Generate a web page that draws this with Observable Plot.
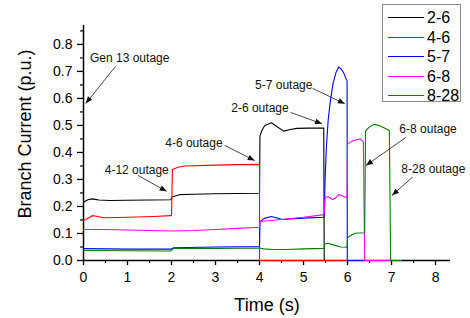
<!DOCTYPE html>
<html>
<head>
<meta charset="utf-8">
<script src="https://cdn.jsdelivr.net/npm/d3@7"></script>
<script src="https://cdn.jsdelivr.net/npm/@observablehq/plot@0.6"></script>
<style>
  html, body { margin: 0; padding: 0; background: #fff; }
  #wrap { position: relative; width: 470px; height: 318px; font-family: "Liberation Sans", Arial, sans-serif; }
  #legend { position: absolute; left: 382px; top: 4px; width: 79px; height: 98px; border: 1.5px solid #8a8a8a; box-sizing: border-box; background: #fff; }
  .li { position: absolute; left: 0; height: 20px; width: 78px; }
  .li .sw { position: absolute; left: 5px; top: 9px; width: 36px; height: 0; border-top: 1.3px solid; }
  .li .lb { position: absolute; left: 44px; top: 0; font-size: 16px; line-height: 20px; color: #000; }
</style>
</head>
<body>
<div id="wrap"></div>
<script>
// ---- data ----
const seriesNames = ["2-6", "4-6", "5-7", "6-8", "8-28"];
const seriesColors = ["#000000", "#ff0000", "#0000ff", "#ff00ff", "#008000"];

const s26 = [[0,0.216],[0.1,0.225],[0.2,0.228],[0.35,0.224],[0.6,0.222],[1,0.223],[1.5,0.224],[1.98,0.225],[2.02,0.236],[2.2,0.244],[2.5,0.245],[3,0.247],[3.5,0.248],[4,0.249],[4.01,0.46],[4.05,0.48],[4.12,0.5],[4.27,0.51],[4.4,0.495],[4.55,0.479],[4.7,0.485],[4.85,0.489],[5.1,0.49],[5.46,0.49],[5.47,0],[7.22,0]];
const s46 = [[0,0.148],[0.05,0.152],[0.2,0.166],[0.3,0.164],[0.45,0.158],[0.8,0.159],[1.2,0.161],[1.6,0.163],[1.98,0.166],[2.0,0.166],[2.02,0.337],[2.15,0.345],[2.3,0.35],[3,0.353],[3.5,0.355],[4,0.356],[4.0,0],[7.22,0]];
const s57 = [[0,0.044],[1,0.042],[1.98,0.042],[2.05,0.047],[3,0.05],[4,0.052],[4.01,0.144],[4.1,0.155],[4.26,0.163],[4.4,0.157],[4.52,0.152],[4.7,0.154],[5,0.157],[5.47,0.16],[5.49,0.3],[5.52,0.42],[5.56,0.52],[5.61,0.59],[5.67,0.655],[5.74,0.697],[5.8,0.716],[5.86,0.708],[5.92,0.692],[5.96,0.675],[5.99,0.665],[5.995,0],[7.22,0]];
const s68 = [[0,0.115],[0.5,0.115],[1,0.113],[1.5,0.111],[2,0.109],[2.5,0.111],[3,0.115],[3.5,0.119],[4,0.123],[4.01,0.145],[4.2,0.147],[4.5,0.152],[5,0.16],[5.47,0.17],[5.49,0.234],[5.56,0.236],[5.66,0.226],[5.72,0.23],[5.8,0.244],[5.88,0.24],[5.97,0.233],[5.99,0.233],[6.0,0.43],[6.08,0.44],[6.19,0.447],[6.29,0.45],[6.36,0.438],[6.39,0],[7.22,0]];
const s828 = [[0,0.037],[1,0.036],[1.98,0.035],[2.05,0.045],[3,0.045],[4,0.046],[4.1,0.043],[4.3,0.041],[4.6,0.041],[5,0.043],[5.47,0.045],[5.48,0.06],[5.55,0.064],[5.7,0.057],[5.85,0.05],[5.99,0.049],[6.0,0.085],[6.1,0.095],[6.17,0.101],[6.39,0.103],[6.41,0.479],[6.48,0.492],[6.6,0.504],[6.72,0.5],[6.85,0.49],[6.95,0.481],[6.98,0],[7.22,0]];
const seriesData = [s26, s46, s57, s68, s828];

const xTicks = [0,1,2,3,4,5,6,7,8];
const xMinor = [0.5,1.5,2.5,3.5,4.5,5.5,6.5,7.5];
const yTicks = [0,0.1,0.2,0.3,0.4,0.5,0.6,0.7,0.8];
const yMinor = [0.05,0.15,0.25,0.35,0.45,0.55,0.65,0.75,0.85];

const xTitle = "Time (s)";
const yTitle = "Branch Current (p.u.)";

// annotations: label position and arrow from -> to (data coordinates)
const annLabels = ["Gen 13 outage", "4-12 outage", "4-6 outage", "2-6 outage", "5-7 outage", "6-8 outage", "8-28 outage"];
const annTextT = [1.05, 1.21, 2.51, 4.01, 4.55, 7.83, 7.95];
const annTextV = [0.749, 0.336, 0.434, 0.563, 0.648, 0.488, 0.337];
const annFromT = [0.73, 1.24, 3.21, 4.71, 5.21, 7.33, 7.48];
const annFromV = [0.719, 0.315, 0.426, 0.548, 0.637, 0.456, 0.309];
const annToT   = [0.05, 1.89, 3.89, 5.42, 5.94, 6.42, 7.01];
const annToV   = [0.581, 0.256, 0.370, 0.506, 0.580, 0.352, 0.241];

// ---- build ----
const lineMarks = seriesData.map((s, i) =>
  Plot.line(s.map(([t, v]) => ({t, v})), {x: "t", y: "v", stroke: seriesColors[i], strokeWidth: 1.1})
);
const ann = annLabels.map((label, i) => ({
  label, tx: annTextT[i], ty: annTextV[i],
  x1: annFromT[i], y1: annFromV[i], x2: annToT[i], y2: annToV[i]
}));

const chart = Plot.plot({
  width: 470, height: 318,
  marginLeft: 83, marginRight: 20, marginTop: 25, marginBottom: 58,
  x: {domain: [0, 8.34]},
  y: {domain: [0, 0.87]},
  style: {fontFamily: "'Liberation Sans', Arial, sans-serif", fontSize: "14px", color: "#000", background: "transparent", overflow: "visible"},
  marks: [
    Plot.axisX({ticks: xTicks, tickSize: 5, tickPadding: 7, tickFormat: d => String(d), label: null, strokeWidth: 1.3, fontSize: 14}),
    Plot.axisX({ticks: xMinor, tickSize: 3, tickFormat: () => "", label: null, strokeWidth: 1.2}),
    Plot.axisY({ticks: yTicks, tickSize: 6, tickPadding: 5, tickFormat: d3.format(".1f"), label: null, strokeWidth: 1.3, fontSize: 14}),
    Plot.axisY({ticks: yMinor, tickSize: 3, tickFormat: () => "", label: null, strokeWidth: 1.2}),
    Plot.ruleX([0], {strokeWidth: 1.5}),
    Plot.ruleY([0], {strokeWidth: 1.5}),
    ...lineMarks,
    Plot.link(ann, {x1: "x1", y1: "y1", x2: "x2", y2: "y2", stroke: "#333", strokeWidth: 0.9, className: "annlink"}),
    Plot.text(ann, {x: "tx", y: "ty", text: "label", fontSize: 12, fill: "#111", textAnchor: "middle"}),
    Plot.text([xTitle], {frameAnchor: "bottom", dy: 45, fontSize: 18, fill: "#000", textAnchor: "middle", lineAnchor: "middle"}),
    Plot.text([yTitle], {frameAnchor: "left", dx: -58, dy: -9, rotate: -90, fontSize: 18, fill: "#000", textAnchor: "middle", lineAnchor: "middle"})
  ]
});

// filled arrow heads
const ns = "http://www.w3.org/2000/svg";
const defs = document.createElementNS(ns, "defs");
const marker = document.createElementNS(ns, "marker");
marker.setAttribute("id", "ahead");
marker.setAttribute("viewBox", "0 0 10 10");
marker.setAttribute("refX", "10");
marker.setAttribute("refY", "5");
marker.setAttribute("markerWidth", "8");
marker.setAttribute("markerHeight", "7");
marker.setAttribute("markerUnits", "userSpaceOnUse");
marker.setAttribute("orient", "auto");
const mp = document.createElementNS(ns, "path");
mp.setAttribute("d", "M0,1 L10,5 L0,9 Z");
mp.setAttribute("fill", "#111");
marker.appendChild(mp);
defs.appendChild(marker);
chart.insertBefore(defs, chart.firstChild);
chart.querySelectorAll("[class*=annlink] path").forEach(p => p.setAttribute("marker-end", "url(#ahead)"));

const wrap = document.getElementById("wrap");
wrap.appendChild(chart);

// legend
const legend = document.createElement("div");
legend.id = "legend";
seriesNames.forEach((name, i) => {
  const li = document.createElement("div");
  li.className = "li";
  li.style.top = (3 + i * 19.6) + "px";
  const sw = document.createElement("div");
  sw.className = "sw";
  sw.style.borderTopColor = seriesColors[i];
  const lb = document.createElement("div");
  lb.className = "lb";
  lb.textContent = name;
  li.appendChild(sw); li.appendChild(lb);
  legend.appendChild(li);
});
wrap.appendChild(legend);
</script>
</body>
</html>
